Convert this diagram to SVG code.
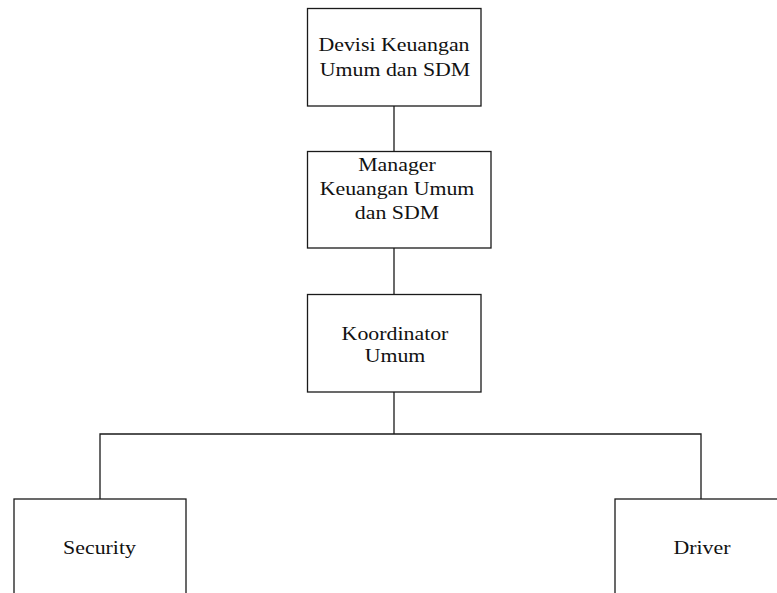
<svg xmlns="http://www.w3.org/2000/svg" width="777" height="593" viewBox="0 0 777 593">
  <style>
    .box { fill: #ffffff; stroke: #1a1a1a; stroke-width: 1.3; }
    .link { fill: none; stroke: #1a1a1a; stroke-width: 1.3; }
    .lbl { font-family: "Liberation Serif", "Times New Roman", serif; font-size: 19px; fill: #111111; text-anchor: middle; }
  </style>
  <rect width="777" height="593" fill="#ffffff"/>

  <g id="connectors">
    <path class="link" d="M394 106 V151.5"/>
    <path class="link" d="M394 248 V294.5"/>
    <path class="link" d="M394 392 V434"/>
    <path class="link" d="M100 499 V434 H701 V499"/>
  </g>

  <g id="devisi">
    <rect class="box" x="307.5" y="8.5" width="173.5" height="97.5"/>
    <text class="lbl" transform="translate(394 51.3) scale(1.15 1)">Devisi Keuangan</text>
    <text class="lbl" transform="translate(395 75.5) scale(1.15 1)">Umum dan SDM</text>
  </g>

  <g id="manager">
    <rect class="box" x="307.5" y="151.5" width="183.5" height="96.5"/>
    <text class="lbl" transform="translate(397 170.7) scale(1.15 1)">Manager</text>
    <text class="lbl" transform="translate(397 195) scale(1.15 1)">Keuangan Umum</text>
    <text class="lbl" transform="translate(397 218.5) scale(1.15 1)">dan SDM</text>
  </g>

  <g id="koordinator">
    <rect class="box" x="307.5" y="294.5" width="173.5" height="97.5"/>
    <text class="lbl" transform="translate(395 339.5) scale(1.15 1)">Koordinator</text>
    <text class="lbl" transform="translate(395 362) scale(1.15 1)">Umum</text>
  </g>

  <g id="security">
    <rect class="box" x="14" y="499" width="172" height="110"/>
    <text class="lbl" transform="translate(99.5 554) scale(1.15 1)">Security</text>
  </g>

  <g id="driver">
    <rect class="box" x="615" y="499" width="180" height="110"/>
    <text class="lbl" transform="translate(702 554) scale(1.15 1)">Driver</text>
  </g>
</svg>
